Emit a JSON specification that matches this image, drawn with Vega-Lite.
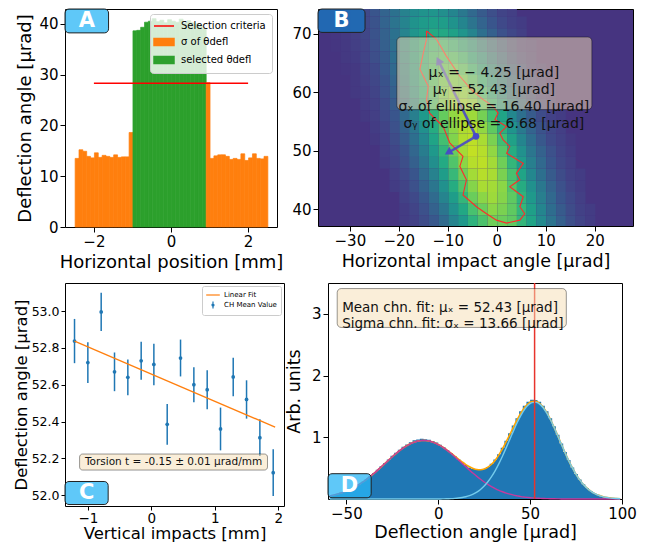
{
  "$schema": "https://vega.github.io/schema/vega-lite/v6.json",
  "autosize": {"type": "none"},
  "padding": {"left": 65, "top": 9, "right": 583, "bottom": 535},
  "background": "white",
  "spacing": 9,
  "bounds": "full",
  "resolve": {"scale": {"color": "independent", "stroke": "independent"}, "legend": {"color": "independent"}},
  "config": {
    "font": "DejaVu Sans",
    "view": {"stroke": "#000000", "strokeWidth": 1},
    "axis": {"domain": false, "grid": false, "tickColor": "#000", "tickSize": 5, "tickWidth": 1, "labelColor": "#000", "titleColor": "#000", "labelFontSize": 15, "titleFontSize": 17.5, "titleFontWeight": "normal", "labelPadding": 2, "titlePadding": 4, "labelFont": "DejaVu Sans", "titleFont": "DejaVu Sans", "labelFlush": false, "labelOverlap": false},
    "legend": {"labelFont": "DejaVu Sans"},
    "text": {"font": "DejaVu Sans"}
  },
  "vconcat": [
    {
      "spacing": 41,
      "bounds": "flush",
      "resolve": {"scale": {"color": "independent", "stroke": "independent"}, "legend": {"color": "independent"}},
      "hconcat": [
        {
          "width": 212, "height": 218,
          "layer": [
            {
              "data": {"values": [
                {"x":-2.5,"v":13.5,"c":"σ of θdefl"},{"x":-2.4,"v":15.2,"c":"σ of θdefl"},{"x":-2.3,"v":14.9,"c":"σ of θdefl"},{"x":-2.2,"v":13.9,"c":"σ of θdefl"},{"x":-2.1,"v":13.6,"c":"σ of θdefl"},{"x":-2.0,"v":14.6,"c":"σ of θdefl"},{"x":-1.9,"v":13.7,"c":"σ of θdefl"},{"x":-1.8,"v":14.1,"c":"σ of θdefl"},{"x":-1.7,"v":13.9,"c":"σ of θdefl"},{"x":-1.6,"v":13.7,"c":"σ of θdefl"},{"x":-1.5,"v":14.2,"c":"σ of θdefl"},{"x":-1.4,"v":13.7,"c":"σ of θdefl"},{"x":-1.3,"v":13.8,"c":"σ of θdefl"},{"x":-1.2,"v":13.8,"c":"σ of θdefl"},{"x":-1.1,"v":18.6,"c":"σ of θdefl"},
                {"x":-1.0,"v":38.6,"c":"selected θdefl"},{"x":-0.9,"v":38.7,"c":"selected θdefl"},{"x":-0.8,"v":39.3,"c":"selected θdefl"},{"x":-0.7,"v":40.3,"c":"selected θdefl"},{"x":-0.6,"v":40.5,"c":"selected θdefl"},{"x":-0.5,"v":41.0,"c":"selected θdefl"},{"x":-0.4,"v":40.4,"c":"selected θdefl"},{"x":-0.3,"v":40.7,"c":"selected θdefl"},{"x":-0.2,"v":40.2,"c":"selected θdefl"},{"x":-0.1,"v":40.8,"c":"selected θdefl"},{"x":0.0,"v":40.5,"c":"selected θdefl"},{"x":0.1,"v":40.3,"c":"selected θdefl"},{"x":0.2,"v":40.9,"c":"selected θdefl"},{"x":0.3,"v":40.1,"c":"selected θdefl"},{"x":0.4,"v":40.6,"c":"selected θdefl"},{"x":0.5,"v":40.2,"c":"selected θdefl"},{"x":0.6,"v":40.0,"c":"selected θdefl"},{"x":0.7,"v":39.6,"c":"selected θdefl"},{"x":0.8,"v":39.0,"c":"selected θdefl"},
                {"x":0.9,"v":28.4,"c":"σ of θdefl"},{"x":1.0,"v":13.5,"c":"σ of θdefl"},{"x":1.1,"v":14.0,"c":"σ of θdefl"},{"x":1.2,"v":14.2,"c":"σ of θdefl"},{"x":1.3,"v":14.2,"c":"σ of θdefl"},{"x":1.4,"v":13.9,"c":"σ of θdefl"},{"x":1.5,"v":13.3,"c":"σ of θdefl"},{"x":1.6,"v":13.5,"c":"σ of θdefl"},{"x":1.7,"v":13.3,"c":"σ of θdefl"},{"x":1.8,"v":14.4,"c":"σ of θdefl"},{"x":1.9,"v":13.1,"c":"σ of θdefl"},{"x":2.0,"v":13.6,"c":"σ of θdefl"},{"x":2.1,"v":14.4,"c":"σ of θdefl"},{"x":2.2,"v":13.5,"c":"σ of θdefl"},{"x":2.3,"v":13.4,"c":"σ of θdefl"},{"x":2.4,"v":13.9,"c":"σ of θdefl"}
              ]},
              "mark": {"type": "bar", "binSpacing": 0, "strokeWidth": 0.7},
              "encoding": {
                "x": {"field": "x", "type": "quantitative", "bin": {"binned": true, "step": 0.1}, "scale": {"domain": [-2.75, 2.75], "nice": false, "zero": false}, "axis": {"values": [-2, 0, 2], "format": "d", "title": "Horizontal position [mm]", "titleFontSize": 18}},
                "y": {"field": "v", "type": "quantitative", "scale": {"domain": [0, 42.9], "nice": false}, "axis": {"values": [0, 10, 20, 30, 40], "title": "Deflection angle [μrad]", "titleFontSize": 18}},
                "stroke": {"field": "c", "type": "nominal", "scale": {"domain": ["σ of θdefl", "selected θdefl"], "range": ["#ff7f0e", "#2ca02c"]}, "legend": null},
                "color": {"field": "c", "type": "nominal",
                  "scale": {"domain": ["Selection criteria", "σ of θdefl", "selected θdefl"], "range": ["#ff0000", "#ff7f0e", "#2ca02c"]},
                  "legend": {"title": null, "orient": "top-right", "offset": 5, "fillColor": "rgba(255,255,255,0.8)", "strokeColor": "#cccccc", "cornerRadius": 3, "padding": 6, "labelFontSize": 10, "labelColor": "#000", "labelOffset": 13, "rowPadding": 4, "symbolSize": 100,
                    "encode": {"symbols": {"update": {
                      "shape": {"signal": "datum.value === 'Selection criteria' ? 'M-1.6,0H2.4' : 'M-1.6,-0.7H2.4V0.7H-1.6Z'"},
                      "fill": {"signal": "datum.value === 'Selection criteria' ? 'transparent' : (datum.value === 'selected θdefl' ? '#2ca02c' : '#ff7f0e')"},
                      "stroke": {"signal": "datum.value === 'Selection criteria' ? '#ff0000' : 'transparent'"},
                      "strokeWidth": {"value": 1.5},
                      "opacity": {"value": 1}
                    }}}
                  }
                }
              }
            },
            {
              "data": {"values": [{}]},
              "mark": {"type": "rule", "strokeWidth": 1.5},
              "encoding": {"x": {"datum": -2}, "x2": {"datum": 2}, "y": {"datum": 28.3}, "color": {"datum": "Selection criteria"}}
            },
            {
              "data": {"values": [{}]},
              "mark": {"type": "rect", "fill": "#29b6f6", "fillOpacity": 0.75, "stroke": "#222222", "strokeWidth": 1, "cornerRadius": 4},
              "encoding": {"x": {"datum": -2.75}, "x2": {"datum": -1.62}, "y": {"datum": 38.2}, "y2": {"datum": 42.9}}
            },
            {
              "data": {"values": [{}]},
              "mark": {"type": "text", "text": "A", "fontSize": 21, "fontWeight": "bold", "color": "#ffffff", "align": "center", "baseline": "middle"},
              "encoding": {"x": {"datum": -2.185}, "y": {"datum": 40.5}}
            }
          ]
        },
        {
          "width": 315, "height": 217,
          "view": {"fill": "#463480", "stroke": "#000000"},
          "layer": [
            {
              "data": {"values": [
                {"x":-20,"y":37,"v":0.19},{"x":-18,"y":37,"v":0.21},{"x":-16,"y":37,"v":0.25},{"x":-14,"y":37,"v":0.30},{"x":-12,"y":37,"v":0.38},{"x":-10,"y":37,"v":0.49},{"x":-8,"y":37,"v":0.59},{"x":-6,"y":37,"v":0.71},{"x":-4,"y":37,"v":0.79},{"x":-2,"y":37,"v":0.86},{"x":0,"y":37,"v":0.85},{"x":2,"y":37,"v":0.83},{"x":4,"y":37,"v":0.73},{"x":6,"y":37,"v":0.64},{"x":8,"y":37,"v":0.52},{"x":10,"y":37,"v":0.42},{"x":12,"y":37,"v":0.33},{"x":14,"y":37,"v":0.26},{"x":16,"y":37,"v":0.22},{"x":18,"y":37,"v":0.19},
                {"x":-20,"y":39,"v":0.19},{"x":-18,"y":39,"v":0.22},{"x":-16,"y":39,"v":0.27},{"x":-14,"y":39,"v":0.34},{"x":-12,"y":39,"v":0.43},{"x":-10,"y":39,"v":0.55},{"x":-8,"y":39,"v":0.66},{"x":-6,"y":39,"v":0.78},{"x":-4,"y":39,"v":0.85},{"x":-2,"y":39,"v":0.91},{"x":0,"y":39,"v":0.88},{"x":2,"y":39,"v":0.83},{"x":4,"y":39,"v":0.73},{"x":6,"y":39,"v":0.62},{"x":8,"y":39,"v":0.50},{"x":10,"y":39,"v":0.39},{"x":12,"y":39,"v":0.31},{"x":14,"y":39,"v":0.25},{"x":16,"y":39,"v":0.21},{"x":18,"y":39,"v":0.19},
                {"x":-20,"y":41,"v":0.21},{"x":-18,"y":41,"v":0.24},{"x":-16,"y":41,"v":0.30},{"x":-14,"y":41,"v":0.38},{"x":-12,"y":41,"v":0.49},{"x":-10,"y":41,"v":0.61},{"x":-8,"y":41,"v":0.73},{"x":-6,"y":41,"v":0.85},{"x":-4,"y":41,"v":0.91},{"x":-2,"y":41,"v":0.94},{"x":0,"y":41,"v":0.90},{"x":2,"y":41,"v":0.83},{"x":4,"y":41,"v":0.71},{"x":6,"y":41,"v":0.59},{"x":8,"y":41,"v":0.47},{"x":10,"y":41,"v":0.37},{"x":12,"y":41,"v":0.29},{"x":14,"y":41,"v":0.24},{"x":16,"y":41,"v":0.20},
                {"x":-22,"y":43,"v":0.19},{"x":-20,"y":43,"v":0.22},{"x":-18,"y":43,"v":0.27},{"x":-16,"y":43,"v":0.34},{"x":-14,"y":43,"v":0.43},{"x":-12,"y":43,"v":0.55},{"x":-10,"y":43,"v":0.68},{"x":-8,"y":43,"v":0.80},{"x":-6,"y":43,"v":0.90},{"x":-4,"y":43,"v":0.96},{"x":-2,"y":43,"v":0.95},{"x":0,"y":43,"v":0.91},{"x":2,"y":43,"v":0.80},{"x":4,"y":43,"v":0.68},{"x":6,"y":43,"v":0.55},{"x":8,"y":43,"v":0.44},{"x":10,"y":43,"v":0.34},{"x":12,"y":43,"v":0.27},{"x":14,"y":43,"v":0.22},{"x":16,"y":43,"v":0.19},
                {"x":-22,"y":45,"v":0.20},{"x":-20,"y":45,"v":0.24},{"x":-18,"y":45,"v":0.29},{"x":-16,"y":45,"v":0.38},{"x":-14,"y":45,"v":0.48},{"x":-12,"y":45,"v":0.61},{"x":-10,"y":45,"v":0.74},{"x":-8,"y":45,"v":0.86},{"x":-6,"y":45,"v":0.95},{"x":-4,"y":45,"v":0.98},{"x":-2,"y":45,"v":0.96},{"x":0,"y":45,"v":0.88},{"x":2,"y":45,"v":0.78},{"x":4,"y":45,"v":0.64},{"x":6,"y":45,"v":0.51},{"x":8,"y":45,"v":0.40},{"x":10,"y":45,"v":0.31},{"x":12,"y":45,"v":0.25},{"x":14,"y":45,"v":0.21},{"x":16,"y":45,"v":0.19},
                {"x":-24,"y":47,"v":0.19},{"x":-22,"y":47,"v":0.22},{"x":-20,"y":47,"v":0.26},{"x":-18,"y":47,"v":0.33},{"x":-16,"y":47,"v":0.42},{"x":-14,"y":47,"v":0.54},{"x":-12,"y":47,"v":0.67},{"x":-10,"y":47,"v":0.80},{"x":-8,"y":47,"v":0.91},{"x":-6,"y":47,"v":0.98},{"x":-4,"y":47,"v":0.99},{"x":-2,"y":47,"v":0.95},{"x":0,"y":47,"v":0.86},{"x":2,"y":47,"v":0.73},{"x":4,"y":47,"v":0.60},{"x":6,"y":47,"v":0.47},{"x":8,"y":47,"v":0.37},{"x":10,"y":47,"v":0.29},{"x":12,"y":47,"v":0.23},{"x":14,"y":47,"v":0.20},
                {"x":-24,"y":49,"v":0.20},{"x":-22,"y":49,"v":0.23},{"x":-20,"y":49,"v":0.28},{"x":-18,"y":49,"v":0.36},{"x":-16,"y":49,"v":0.46},{"x":-14,"y":49,"v":0.59},{"x":-12,"y":49,"v":0.72},{"x":-10,"y":49,"v":0.85},{"x":-8,"y":49,"v":0.95},{"x":-6,"y":49,"v":1.0},{"x":-4,"y":49,"v":0.98},{"x":-2,"y":49,"v":0.92},{"x":0,"y":49,"v":0.81},{"x":2,"y":49,"v":0.68},{"x":4,"y":49,"v":0.55},{"x":6,"y":49,"v":0.43},{"x":8,"y":49,"v":0.34},{"x":10,"y":49,"v":0.27},{"x":12,"y":49,"v":0.22},{"x":14,"y":49,"v":0.19},
                {"x":-26,"y":51,"v":0.18},{"x":-24,"y":51,"v":0.21},{"x":-22,"y":51,"v":0.25},{"x":-20,"y":51,"v":0.31},{"x":-18,"y":51,"v":0.40},{"x":-16,"y":51,"v":0.51},{"x":-14,"y":51,"v":0.64},{"x":-12,"y":51,"v":0.77},{"x":-10,"y":51,"v":0.89},{"x":-8,"y":51,"v":0.97},{"x":-6,"y":51,"v":0.99},{"x":-4,"y":51,"v":0.96},{"x":-2,"y":51,"v":0.88},{"x":0,"y":51,"v":0.76},{"x":2,"y":51,"v":0.63},{"x":4,"y":51,"v":0.50},{"x":6,"y":51,"v":0.39},{"x":8,"y":51,"v":0.30},{"x":10,"y":51,"v":0.24},{"x":12,"y":51,"v":0.21},{"x":14,"y":51,"v":0.18},
                {"x":-26,"y":53,"v":0.19},{"x":-24,"y":53,"v":0.22},{"x":-22,"y":53,"v":0.27},{"x":-20,"y":53,"v":0.34},{"x":-18,"y":53,"v":0.43},{"x":-16,"y":53,"v":0.55},{"x":-14,"y":53,"v":0.68},{"x":-12,"y":53,"v":0.81},{"x":-10,"y":53,"v":0.91},{"x":-8,"y":53,"v":0.97},{"x":-6,"y":53,"v":0.98},{"x":-4,"y":53,"v":0.92},{"x":-2,"y":53,"v":0.83},{"x":0,"y":53,"v":0.70},{"x":2,"y":53,"v":0.57},{"x":4,"y":53,"v":0.45},{"x":6,"y":53,"v":0.35},{"x":8,"y":53,"v":0.28},{"x":10,"y":53,"v":0.23},{"x":12,"y":53,"v":0.20},
                {"x":-28,"y":55,"v":0.18},{"x":-26,"y":55,"v":0.20},{"x":-24,"y":55,"v":0.24},{"x":-22,"y":55,"v":0.29},{"x":-20,"y":55,"v":0.37},{"x":-18,"y":55,"v":0.47},{"x":-16,"y":55,"v":0.59},{"x":-14,"y":55,"v":0.72},{"x":-12,"y":55,"v":0.84},{"x":-10,"y":55,"v":0.92},{"x":-8,"y":55,"v":0.96},{"x":-6,"y":55,"v":0.94},{"x":-4,"y":55,"v":0.87},{"x":-2,"y":55,"v":0.77},{"x":0,"y":55,"v":0.64},{"x":2,"y":55,"v":0.51},{"x":4,"y":55,"v":0.40},{"x":6,"y":55,"v":0.31},{"x":8,"y":55,"v":0.25},{"x":10,"y":55,"v":0.21},{"x":12,"y":55,"v":0.19},
                {"x":-28,"y":57,"v":0.19},{"x":-26,"y":57,"v":0.21},{"x":-24,"y":57,"v":0.25},{"x":-22,"y":57,"v":0.31},{"x":-20,"y":57,"v":0.40},{"x":-18,"y":57,"v":0.50},{"x":-16,"y":57,"v":0.63},{"x":-14,"y":57,"v":0.75},{"x":-12,"y":57,"v":0.85},{"x":-10,"y":57,"v":0.92},{"x":-8,"y":57,"v":0.93},{"x":-6,"y":57,"v":0.90},{"x":-4,"y":57,"v":0.81},{"x":-2,"y":57,"v":0.70},{"x":0,"y":57,"v":0.57},{"x":2,"y":57,"v":0.46},{"x":4,"y":57,"v":0.36},{"x":6,"y":57,"v":0.28},{"x":8,"y":57,"v":0.23},{"x":10,"y":57,"v":0.20},
                {"x":-30,"y":59,"v":0.18},{"x":-28,"y":59,"v":0.19},{"x":-26,"y":59,"v":0.22},{"x":-24,"y":59,"v":0.27},{"x":-22,"y":59,"v":0.33},{"x":-20,"y":59,"v":0.42},{"x":-18,"y":59,"v":0.53},{"x":-16,"y":59,"v":0.65},{"x":-14,"y":59,"v":0.76},{"x":-12,"y":59,"v":0.85},{"x":-10,"y":59,"v":0.90},{"x":-8,"y":59,"v":0.89},{"x":-6,"y":59,"v":0.84},{"x":-4,"y":59,"v":0.74},{"x":-2,"y":59,"v":0.63},{"x":0,"y":59,"v":0.51},{"x":2,"y":59,"v":0.40},{"x":4,"y":59,"v":0.32},{"x":6,"y":59,"v":0.26},{"x":8,"y":59,"v":0.21},{"x":10,"y":59,"v":0.19},
                {"x":-30,"y":61,"v":0.18},{"x":-28,"y":61,"v":0.20},{"x":-26,"y":61,"v":0.23},{"x":-24,"y":61,"v":0.28},{"x":-22,"y":61,"v":0.35},{"x":-20,"y":61,"v":0.45},{"x":-18,"y":61,"v":0.56},{"x":-16,"y":61,"v":0.67},{"x":-14,"y":61,"v":0.77},{"x":-12,"y":61,"v":0.84},{"x":-10,"y":61,"v":0.86},{"x":-8,"y":61,"v":0.84},{"x":-6,"y":61,"v":0.77},{"x":-4,"y":61,"v":0.67},{"x":-2,"y":61,"v":0.56},{"x":0,"y":61,"v":0.45},{"x":2,"y":61,"v":0.36},{"x":4,"y":61,"v":0.28},{"x":6,"y":61,"v":0.23},{"x":8,"y":61,"v":0.20},
                {"x":-32,"y":63,"v":0.17},{"x":-30,"y":63,"v":0.18},{"x":-28,"y":63,"v":0.21},{"x":-26,"y":63,"v":0.24},{"x":-24,"y":63,"v":0.30},{"x":-22,"y":63,"v":0.37},{"x":-20,"y":63,"v":0.47},{"x":-18,"y":63,"v":0.57},{"x":-16,"y":63,"v":0.68},{"x":-14,"y":63,"v":0.76},{"x":-12,"y":63,"v":0.81},{"x":-10,"y":63,"v":0.82},{"x":-8,"y":63,"v":0.78},{"x":-6,"y":63,"v":0.70},{"x":-4,"y":63,"v":0.60},{"x":-2,"y":63,"v":0.49},{"x":0,"y":63,"v":0.40},{"x":2,"y":63,"v":0.32},{"x":4,"y":63,"v":0.26},{"x":6,"y":63,"v":0.21},{"x":8,"y":63,"v":0.19},
                {"x":-32,"y":65,"v":0.18},{"x":-30,"y":65,"v":0.19},{"x":-28,"y":65,"v":0.22},{"x":-26,"y":65,"v":0.26},{"x":-24,"y":65,"v":0.31},{"x":-22,"y":65,"v":0.39},{"x":-20,"y":65,"v":0.48},{"x":-18,"y":65,"v":0.58},{"x":-16,"y":65,"v":0.67},{"x":-14,"y":65,"v":0.74},{"x":-12,"y":65,"v":0.77},{"x":-10,"y":65,"v":0.76},{"x":-8,"y":65,"v":0.71},{"x":-6,"y":65,"v":0.62},{"x":-4,"y":65,"v":0.53},{"x":-2,"y":65,"v":0.43},{"x":0,"y":65,"v":0.35},{"x":2,"y":65,"v":0.28},{"x":4,"y":65,"v":0.23},{"x":6,"y":65,"v":0.20},
                {"x":-34,"y":67,"v":0.17},{"x":-32,"y":67,"v":0.18},{"x":-30,"y":67,"v":0.20},{"x":-28,"y":67,"v":0.22},{"x":-26,"y":67,"v":0.27},{"x":-24,"y":67,"v":0.33},{"x":-22,"y":67,"v":0.40},{"x":-20,"y":67,"v":0.49},{"x":-18,"y":67,"v":0.58},{"x":-16,"y":67,"v":0.66},{"x":-14,"y":67,"v":0.71},{"x":-12,"y":67,"v":0.72},{"x":-10,"y":67,"v":0.69},{"x":-8,"y":67,"v":0.63},{"x":-6,"y":67,"v":0.55},{"x":-4,"y":67,"v":0.46},{"x":-2,"y":67,"v":0.38},{"x":0,"y":67,"v":0.31},{"x":2,"y":67,"v":0.25},{"x":4,"y":67,"v":0.21},{"x":6,"y":67,"v":0.19},
                {"x":-34,"y":69,"v":0.17},{"x":-32,"y":69,"v":0.18},{"x":-30,"y":69,"v":0.20},{"x":-28,"y":69,"v":0.23},{"x":-26,"y":69,"v":0.28},{"x":-24,"y":69,"v":0.34},{"x":-22,"y":69,"v":0.41},{"x":-20,"y":69,"v":0.49},{"x":-18,"y":69,"v":0.57},{"x":-16,"y":69,"v":0.63},{"x":-14,"y":69,"v":0.67},{"x":-12,"y":69,"v":0.66},{"x":-10,"y":69,"v":0.63},{"x":-8,"y":69,"v":0.57},{"x":-6,"y":69,"v":0.49},{"x":-4,"y":69,"v":0.40},{"x":-2,"y":69,"v":0.33},{"x":0,"y":69,"v":0.27},{"x":2,"y":69,"v":0.23},{"x":4,"y":69,"v":0.20},
                {"x":-34,"y":71,"v":0.17},{"x":-32,"y":71,"v":0.19},{"x":-30,"y":71,"v":0.21},{"x":-28,"y":71,"v":0.24},{"x":-26,"y":71,"v":0.28},{"x":-24,"y":71,"v":0.35},{"x":-22,"y":71,"v":0.42},{"x":-20,"y":71,"v":0.49},{"x":-18,"y":71,"v":0.56},{"x":-16,"y":71,"v":0.60},{"x":-14,"y":71,"v":0.62},{"x":-12,"y":71,"v":0.61},{"x":-10,"y":71,"v":0.56},{"x":-8,"y":71,"v":0.50},{"x":-6,"y":71,"v":0.42},{"x":-4,"y":71,"v":0.35},{"x":-2,"y":71,"v":0.29},{"x":0,"y":71,"v":0.24},{"x":2,"y":71,"v":0.21},{"x":4,"y":71,"v":0.19},
                {"x":-34,"y":73,"v":0.18},{"x":-32,"y":73,"v":0.19},{"x":-30,"y":73,"v":0.21},{"x":-28,"y":73,"v":0.24},{"x":-26,"y":73,"v":0.29},{"x":-24,"y":73,"v":0.35},{"x":-22,"y":73,"v":0.41},{"x":-20,"y":73,"v":0.48},{"x":-18,"y":73,"v":0.53},{"x":-16,"y":73,"v":0.56},{"x":-14,"y":73,"v":0.57},{"x":-12,"y":73,"v":0.54},{"x":-10,"y":73,"v":0.50},{"x":-8,"y":73,"v":0.44},{"x":-6,"y":73,"v":0.37},{"x":-4,"y":73,"v":0.31},{"x":-2,"y":73,"v":0.26},{"x":0,"y":73,"v":0.22},{"x":2,"y":73,"v":0.20}
              ]},
              "mark": {"type": "rect", "clip": true},
              "encoding": {
                "x": {"field": "x", "type": "quantitative", "bin": {"binned": true, "step": 2}, "scale": {"domain": [-36.5, 27.8], "nice": false, "zero": false}, "axis": {"values": [-30, -20, -10, 0, 10, 20], "format": "d", "title": "Horizontal impact angle [μrad]"}},
                "y": {"field": "y", "type": "quantitative", "bin": {"binned": true, "step": 2}, "scale": {"domain": [37.1, 74.2], "nice": false, "zero": false}, "axis": {"values": [40, 50, 60, 70], "format": "d", "title": null}},
                "color": {"field": "v", "type": "quantitative", "scale": {"scheme": "viridis", "domain": [0, 1.1]}, "legend": null}
              }
            },
            {
              "data": {"values": [
                {"o":1,"x":-14.35,"y":70.45},{"o":2,"x":-12.3,"y":69.0},{"o":3,"x":-10.3,"y":66.15},{"o":4,"x":-7.55,"y":62.7},{"o":5,"x":-5.2,"y":60.4},{"o":6,"x":-2.8,"y":58.7},{"o":7,"x":-0.75,"y":57.6},{"o":8,"x":0.27,"y":56.4},{"o":9,"x":-0.4,"y":55.3},{"o":10,"x":2.0,"y":54.1},{"o":11,"x":0.6,"y":53.0},{"o":12,"x":1.3,"y":51.8},{"o":13,"x":2.65,"y":50.7},{"o":14,"x":2.0,"y":49.55},{"o":15,"x":5.4,"y":47.8},{"o":16,"x":4.0,"y":46.1},{"o":17,"x":4.7,"y":45.0},{"o":18,"x":2.65,"y":43.8},{"o":19,"x":5.4,"y":42.1},{"o":20,"x":4.7,"y":40.4},{"o":21,"x":5.7,"y":39.2},{"o":22,"x":4.7,"y":38.1},{"o":23,"x":2.0,"y":37.6},{"o":24,"x":-0.07,"y":38.1},{"o":25,"x":-2.1,"y":39.2},{"o":26,"x":-4.15,"y":40.4},{"o":27,"x":-6.9,"y":42.4},{"o":28,"x":-6.2,"y":45.0},{"o":29,"x":-7.55,"y":47.3},{"o":30,"x":-6.9,"y":49.0},{"o":31,"x":-9.6,"y":51.3},{"o":32,"x":-10.95,"y":54.1},{"o":33,"x":-13.7,"y":56.4},{"o":34,"x":-14.35,"y":58.7},{"o":35,"x":-14.0,"y":61.0},{"o":36,"x":-15.7,"y":63.9},{"o":37,"x":-15.0,"y":66.7},{"o":38,"x":-14.35,"y":69.0},{"o":39,"x":-14.35,"y":70.45}
              ]},
              "mark": {"type": "line", "color": "#ff2a2a", "strokeWidth": 1.1, "clip": true},
              "encoding": {"x": {"field": "x", "type": "quantitative"}, "y": {"field": "y", "type": "quantitative"}, "order": {"field": "o", "type": "quantitative"}}
            },
            {
              "data": {"values": [{}]},
              "mark": {"type": "rule", "color": "#4848c8", "strokeWidth": 2.5, "opacity": 0.9},
              "encoding": {"x": {"datum": -4.25}, "y": {"datum": 52.43}, "x2": {"datum": -12.0}, "y2": {"datum": 65.5}}
            },
            {
              "data": {"values": [{}]},
              "mark": {"type": "rule", "color": "#4848c8", "strokeWidth": 2.5, "opacity": 0.9},
              "encoding": {"x": {"datum": -4.25}, "y": {"datum": 52.43}, "x2": {"datum": -9.6}, "y2": {"datum": 49.8}}
            },
            {
              "data": {"values": [{}]},
              "mark": {"type": "point", "shape": "triangle", "filled": true, "color": "#4848c8", "opacity": 0.95, "size": 80, "angle": 240},
              "encoding": {"x": {"datum": -9.7}, "y": {"datum": 49.75}}
            },
            {
              "data": {"values": [{}]},
              "mark": {"type": "point", "shape": "triangle", "filled": true, "color": "#4848c8", "opacity": 0.95, "size": 80, "angle": 333},
              "encoding": {"x": {"datum": -11.8}, "y": {"datum": 65.2}}
            },
            {
              "data": {"values": [{}]},
              "mark": {"type": "point", "shape": "circle", "filled": true, "color": "#4848c8", "opacity": 1, "size": 45},
              "encoding": {"x": {"datum": -4.25}, "y": {"datum": 52.43}}
            },
            {
              "data": {"values": [{}]},
              "mark": {"type": "rect", "fill": "#f5deb3", "fillOpacity": 0.5, "stroke": "#000000", "strokeOpacity": 0.4, "strokeWidth": 1, "cornerRadius": 4},
              "encoding": {"x": {"datum": -20.4}, "x2": {"datum": 19.4}, "y": {"datum": 57.0}, "y2": {"datum": 69.4}}
            },
            {
              "data": {"values": [{}]},
              "mark": {"type": "text", "text": ["μₓ = − 4.25 [μrad]", "μᵧ = 52.43 [μrad]", "σₓ of ellipse = 16.40 [μrad]", "σᵧ of ellipse = 6.68 [μrad]"], "fontSize": 14, "lineHeight": 17, "align": "center", "baseline": "middle", "color": "#111111"},
              "encoding": {"x": {"datum": -0.6}, "y": {"datum": 63.3}}
            },
            {
              "data": {"values": [{}]},
              "mark": {"type": "rect", "fill": "#1f6db6", "fillOpacity": 0.92, "stroke": "#222222", "strokeWidth": 1, "cornerRadius": 4},
              "encoding": {"x": {"datum": -36.5}, "x2": {"datum": -26.9}, "y": {"datum": 70.2}, "y2": {"datum": 74.2}}
            },
            {
              "data": {"values": [{}]},
              "mark": {"type": "text", "text": "B", "fontSize": 21, "fontWeight": "bold", "color": "#ffffff", "align": "center", "baseline": "middle"},
              "encoding": {"x": {"datum": -31.7}, "y": {"datum": 72.15}}
            }
          ]
        }
      ]
    },
    {
      "spacing": 44,
      "bounds": "flush",
      "resolve": {"scale": {"color": "independent", "stroke": "independent"}, "legend": {"color": "independent"}},
      "hconcat": [
        {
          "width": 219, "height": 223,
          "layer": [
            {
              "data": {"values": [
                {"x":-1.21,"y":52.837,"e":0.12},{"x":-1.0,"y":52.72,"e":0.11},{"x":-0.79,"y":52.995,"e":0.104},{"x":-0.58,"y":52.67,"e":0.105},{"x":-0.37,"y":52.64,"e":0.097},{"x":-0.16,"y":52.73,"e":0.103},{"x":0.04,"y":52.71,"e":0.113},{"x":0.25,"y":52.385,"e":0.11},{"x":0.46,"y":52.745,"e":0.1},{"x":0.67,"y":52.6,"e":0.095},{"x":0.88,"y":52.573,"e":0.106},{"x":1.09,"y":52.36,"e":0.116},{"x":1.29,"y":52.642,"e":0.104},{"x":1.5,"y":52.52,"e":0.104},{"x":1.71,"y":52.313,"e":0.1},{"x":1.92,"y":52.123,"e":0.127}
              ]},
              "layer": [
                {
                  "mark": {"type": "errorbar", "ticks": false, "thickness": 1.5},
                  "encoding": {
                    "x": {"field": "x", "type": "quantitative", "scale": {"domain": [-1.36, 2.09], "nice": false, "zero": false}, "axis": {"values": [-1, 0, 1, 2], "format": "d", "title": "Vertical impacts [mm]", "titleFontSize": 16.5, "labelFontSize": 13.5, "tickSize": 4, "labelPadding": 1, "titlePadding": 1}},
                    "y": {"field": "y", "type": "quantitative", "scale": {"domain": [51.942, 53.152], "nice": false, "zero": false}, "axis": {"values": [52.0, 52.2, 52.4, 52.6, 52.8, 53.0], "format": ".1f", "title": "Deflection angle [μrad]", "titleFontSize": 16.5, "labelFontSize": 12.5, "tickSize": 4, "labelPadding": 2, "titlePadding": 2}},
                    "yError": {"field": "e"},
                    "color": {"datum": "CH Mean Value",
                      "scale": {"domain": ["Linear Fit", "CH Mean Value"], "range": ["#ff7f0e", "#1f77b4"]},
                      "legend": {"title": null, "orient": "top-right", "offset": 3, "fillColor": "rgba(255,255,255,0.8)", "strokeColor": "#cccccc", "cornerRadius": 2, "padding": 4, "labelFontSize": 7, "labelColor": "#000", "labelOffset": 8, "rowPadding": 1, "symbolSize": 64,
                        "encode": {"symbols": {"update": {
                          "shape": {"signal": "datum.value === 'Linear Fit' ? 'M-1.2,0H2.2' : 'M0.5,-0.9V0.9M0.25,0A0.25,0.25,0,1,1,0.75,0A0.25,0.25,0,1,1,0.25,0'"},
                          "fill": {"signal": "datum.value === 'Linear Fit' ? 'transparent' : '#1f77b4'"},
                          "stroke": {"signal": "datum.value === 'Linear Fit' ? '#ff7f0e' : '#1f77b4'"},
                          "strokeWidth": {"value": 1.2},
                          "opacity": {"value": 1}
                        }}}
                      }
                    }
                  }
                },
                {
                  "mark": {"type": "point", "filled": true, "size": 14, "opacity": 1},
                  "encoding": {"x": {"field": "x", "type": "quantitative"}, "y": {"field": "y", "type": "quantitative"}, "color": {"datum": "CH Mean Value"}}
                }
              ]
            },
            {
              "data": {"values": [{"x": -1.21, "y": 52.837}, {"x": 1.95, "y": 52.37}]},
              "mark": {"type": "line", "strokeWidth": 1.3},
              "encoding": {"x": {"field": "x", "type": "quantitative"}, "y": {"field": "y", "type": "quantitative"}, "color": {"datum": "Linear Fit"}}
            },
            {
              "data": {"values": [{}]},
              "mark": {"type": "rect", "fill": "#f5deb3", "fillOpacity": 0.5, "stroke": "#000000", "strokeOpacity": 0.4, "strokeWidth": 1, "cornerRadius": 3},
              "encoding": {"x": {"datum": -1.13}, "x2": {"datum": 1.83}, "y": {"datum": 52.137}, "y2": {"datum": 52.224}}
            },
            {
              "data": {"values": [{}]},
              "mark": {"type": "text", "text": "Torsion t = -0.15 ± 0.01 μrad/mm", "fontSize": 10.5, "align": "center", "baseline": "middle", "color": "#111111"},
              "encoding": {"x": {"datum": 0.35}, "y": {"datum": 52.18}}
            },
            {
              "data": {"values": [{}]},
              "mark": {"type": "rect", "fill": "#29b6f6", "fillOpacity": 0.75, "stroke": "#222222", "strokeWidth": 1, "cornerRadius": 4},
              "encoding": {"x": {"datum": -1.36}, "x2": {"datum": -0.68}, "y": {"datum": 51.95}, "y2": {"datum": 52.075}}
            },
            {
              "data": {"values": [{}]},
              "mark": {"type": "text", "text": "C", "fontSize": 21, "fontWeight": "bold", "color": "#ffffff", "align": "center", "baseline": "middle"},
              "encoding": {"x": {"datum": -1.02}, "y": {"datum": 52.011}}
            }
          ]
        },
        {
          "width": 294, "height": 216,
          "layer": [
            {
              "data": {"values": [
                {"c":-59,"h":0.055,"g1":0.050,"g2":0,"s":0.050},{"c":-57,"h":0.065,"g1":0.062,"g2":0,"s":0.062},{"c":-55,"h":0.08,"g1":0.078,"g2":0,"s":0.078},{"c":-53,"h":0.10,"g1":0.096,"g2":0,"s":0.096},{"c":-51,"h":0.12,"g1":0.117,"g2":0,"s":0.117},{"c":-49,"h":0.145,"g1":0.141,"g2":0,"s":0.141},{"c":-47,"h":0.17,"g1":0.169,"g2":0,"s":0.169},{"c":-45,"h":0.205,"g1":0.201,"g2":0,"s":0.201},{"c":-43,"h":0.24,"g1":0.237,"g2":0,"s":0.237},{"c":-41,"h":0.28,"g1":0.276,"g2":0,"s":0.276},
                {"c":-39,"h":0.325,"g1":0.320,"g2":0,"s":0.320},{"c":-37,"h":0.37,"g1":0.366,"g2":0,"s":0.366},{"c":-35,"h":0.42,"g1":0.416,"g2":0,"s":0.416},{"c":-33,"h":0.475,"g1":0.468,"g2":0,"s":0.468},{"c":-31,"h":0.53,"g1":0.521,"g2":0,"s":0.521},{"c":-29,"h":0.585,"g1":0.576,"g2":0,"s":0.576},{"c":-27,"h":0.64,"g1":0.631,"g2":0,"s":0.631},{"c":-25,"h":0.70,"g1":0.685,"g2":0,"s":0.685},{"c":-23,"h":0.75,"g1":0.736,"g2":0,"s":0.736},{"c":-21,"h":0.80,"g1":0.784,"g2":0,"s":0.784},
                {"c":-19,"h":0.845,"g1":0.828,"g2":0,"s":0.828},{"c":-17,"h":0.885,"g1":0.867,"g2":0,"s":0.867},{"c":-15,"h":0.92,"g1":0.899,"g2":0,"s":0.899},{"c":-13,"h":0.95,"g1":0.923,"g2":0,"s":0.923},{"c":-11,"h":0.965,"g1":0.940,"g2":0,"s":0.940},{"c":-9,"h":0.975,"g1":0.949,"g2":0,"s":0.949},{"c":-7,"h":0.97,"g1":0.949,"g2":0,"s":0.949},{"c":-5,"h":0.96,"g1":0.940,"g2":0,"s":0.940},{"c":-3,"h":0.94,"g1":0.923,"g2":0,"s":0.923},{"c":-1,"h":0.915,"g1":0.899,"g2":0,"s":0.899},
                {"c":1,"h":0.88,"g1":0.867,"g2":0.001,"s":0.868},{"c":3,"h":0.84,"g1":0.828,"g2":0.002,"s":0.830},{"c":5,"h":0.795,"g1":0.784,"g2":0.004,"s":0.788},{"c":7,"h":0.745,"g1":0.736,"g2":0.006,"s":0.742},{"c":9,"h":0.695,"g1":0.685,"g2":0.010,"s":0.695},{"c":11,"h":0.645,"g1":0.631,"g2":0.016,"s":0.647},{"c":13,"h":0.595,"g1":0.576,"g2":0.025,"s":0.601},{"c":15,"h":0.55,"g1":0.521,"g2":0.037,"s":0.558},{"c":17,"h":0.51,"g1":0.468,"g2":0.055,"s":0.523},{"c":19,"h":0.485,"g1":0.416,"g2":0.079,"s":0.495},
                {"c":21,"h":0.475,"g1":0.366,"g2":0.112,"s":0.478},{"c":23,"h":0.47,"g1":0.320,"g2":0.155,"s":0.475},{"c":25,"h":0.485,"g1":0.276,"g2":0.210,"s":0.486},{"c":27,"h":0.52,"g1":0.237,"g2":0.279,"s":0.516},{"c":29,"h":0.57,"g1":0.201,"g2":0.362,"s":0.563},{"c":31,"h":0.64,"g1":0.169,"g2":0.460,"s":0.629},{"c":33,"h":0.725,"g1":0.141,"g2":0.573,"s":0.714},{"c":35,"h":0.83,"g1":0.117,"g2":0.698,"s":0.815},{"c":37,"h":0.945,"g1":0.096,"g2":0.832,"s":0.928},{"c":39,"h":1.065,"g1":0.078,"g2":0.970,"s":1.048},
                {"c":41,"h":1.19,"g1":0.062,"g2":1.108,"s":1.170},{"c":43,"h":1.31,"g1":0.050,"g2":1.239,"s":1.289},{"c":45,"h":1.42,"g1":0.039,"g2":1.356,"s":1.395},{"c":47,"h":1.51,"g1":0.031,"g2":1.452,"s":1.483},{"c":49,"h":1.575,"g1":0.024,"g2":1.522,"s":1.546},{"c":51,"h":1.61,"g1":0.018,"g2":1.562,"s":1.580},{"c":53,"h":1.605,"g1":0.014,"g2":1.568,"s":1.582},{"c":55,"h":1.575,"g1":0.011,"g2":1.542,"s":1.553},{"c":57,"h":1.51,"g1":0.008,"g2":1.483,"s":1.491},{"c":59,"h":1.42,"g1":0.006,"g2":1.397,"s":1.403},
                {"c":61,"h":1.31,"g1":0.004,"g2":1.288,"s":1.292},{"c":63,"h":1.18,"g1":0.003,"g2":1.162,"s":1.165},{"c":65,"h":1.04,"g1":0.002,"g2":1.026,"s":1.028},{"c":67,"h":0.90,"g1":0.001,"g2":0.887,"s":0.888},{"c":69,"h":0.76,"g1":0.001,"g2":0.750,"s":0.751},{"c":71,"h":0.63,"g1":0,"g2":0.621,"s":0.621},{"c":73,"h":0.51,"g1":0,"g2":0.504,"s":0.504},{"c":75,"h":0.405,"g1":0,"g2":0.400,"s":0.400},{"c":77,"h":0.315,"g1":0,"g2":0.310,"s":0.310},{"c":79,"h":0.24,"g1":0,"g2":0.236,"s":0.236},
                {"c":81,"h":0.18,"g1":0,"g2":0.175,"s":0.175},{"c":83,"h":0.13,"g1":0,"g2":0.128,"s":0.128},{"c":85,"h":0.092,"g1":0,"g2":0.091,"s":0.091},{"c":87,"h":0.064,"g1":0,"g2":0.063,"s":0.063},{"c":89,"h":0.044,"g1":0,"g2":0.043,"s":0.043},{"c":91,"h":0.03,"g1":0,"g2":0.029,"s":0.029},{"c":93,"h":0.02,"g1":0,"g2":0.019,"s":0.019},{"c":95,"h":0.013,"g1":0,"g2":0.012,"s":0.012},{"c":97,"h":0.008,"g1":0,"g2":0.008,"s":0.008},{"c":99,"h":0.005,"g1":0,"g2":0.005,"s":0.005}
              ]},
              "layer": [
                {
                  "mark": {"type": "area", "interpolate": "step", "color": "#1f77b4", "opacity": 1},
                  "encoding": {
                    "x": {"field": "c", "type": "quantitative", "scale": {"domain": [-60, 100], "nice": false, "zero": false}, "axis": {"values": [-50, 0, 50, 100], "format": "d", "title": "Deflection angle [μrad]", "titlePadding": 2}},
                    "y": {"field": "h", "type": "quantitative", "scale": {"domain": [0, 3.5], "nice": false}, "axis": {"values": [1, 2, 3], "format": "d", "title": "Arb. units", "titlePadding": 8}}
                  }
                },
                {
                  "mark": {"type": "line", "interpolate": "monotone", "color": "#ffa500", "strokeWidth": 1.6},
                  "encoding": {"x": {"field": "c", "type": "quantitative"}, "y": {"field": "s", "type": "quantitative"}}
                },
                {
                  "mark": {"type": "line", "interpolate": "monotone", "color": "#c43b9e", "strokeWidth": 1.4},
                  "encoding": {"x": {"field": "c", "type": "quantitative"}, "y": {"field": "g1", "type": "quantitative"}}
                },
                {
                  "mark": {"type": "line", "interpolate": "monotone", "color": "#74cbec", "strokeWidth": 1.4},
                  "encoding": {"x": {"field": "c", "type": "quantitative"}, "y": {"field": "g2", "type": "quantitative"}}
                }
              ]
            },
            {
              "data": {"values": [{}]},
              "mark": {"type": "rule", "color": "#e8342c", "strokeWidth": 1.5},
              "encoding": {"x": {"datum": 52.43}}
            },
            {
              "data": {"values": [{}]},
              "mark": {"type": "rect", "fill": "#f5deb3", "fillOpacity": 0.5, "stroke": "#000000", "strokeOpacity": 0.4, "strokeWidth": 1, "cornerRadius": 4},
              "encoding": {"x": {"datum": -55}, "x2": {"datum": 69.7}, "y": {"datum": 2.78}, "y2": {"datum": 3.41}}
            },
            {
              "data": {"values": [{}]},
              "mark": {"type": "text", "text": ["Mean chn. fit: μₓ = 52.43 [μrad]", "Sigma chn. fit: σₓ = 13.66 [μrad]"], "fontSize": 13.5, "lineHeight": 16.5, "align": "left", "baseline": "middle", "color": "#111111"},
              "encoding": {"x": {"datum": -52.3}, "y": {"datum": 3.095}}
            },
            {
              "data": {"values": [{}]},
              "mark": {"type": "rect", "fill": "#29b6f6", "fillOpacity": 0.75, "stroke": "#222222", "strokeWidth": 1, "cornerRadius": 4},
              "encoding": {"x": {"datum": -60}, "x2": {"datum": -36.5}, "y": {"datum": 0.02}, "y2": {"datum": 0.41}}
            },
            {
              "data": {"values": [{}]},
              "mark": {"type": "text", "text": "D", "fontSize": 21, "fontWeight": "bold", "color": "#ffffff", "align": "center", "baseline": "middle"},
              "encoding": {"x": {"datum": -48.25}, "y": {"datum": 0.215}}
            }
          ]
        }
      ]
    }
  ]
}
